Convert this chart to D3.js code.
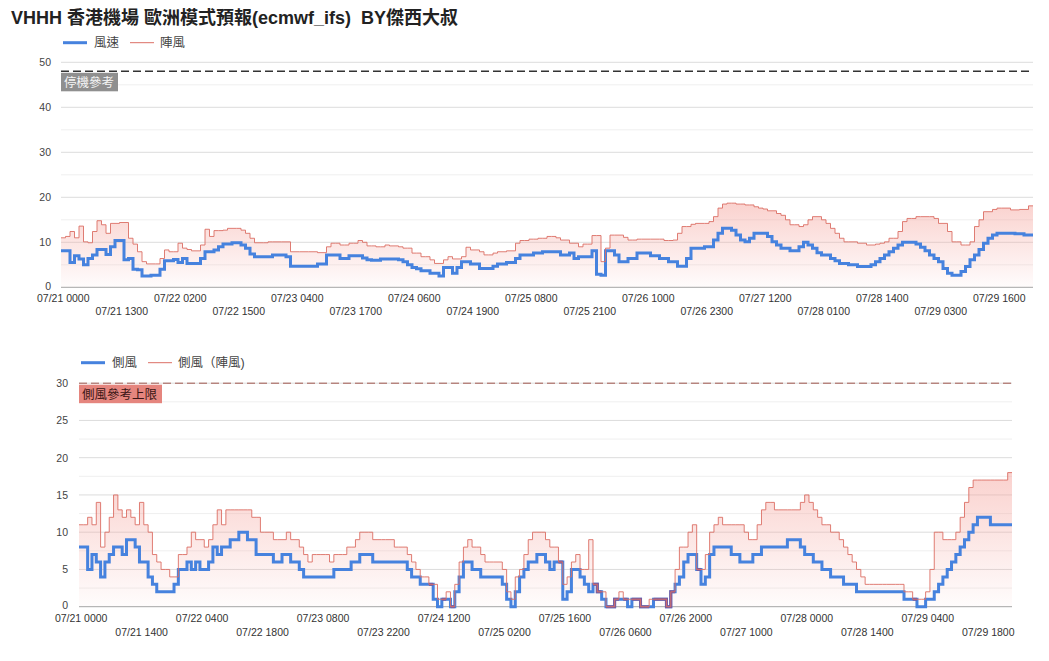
<!DOCTYPE html>
<html>
<head>
<meta charset="utf-8">
<script src="https://cdnjs.cloudflare.com/ajax/libs/d3/7.8.5/d3.min.js"></script>
<style>
body { margin: 0; background: #fff; }
text { font-family: "Liberation Sans", Arial, "Noto Sans CJK TC", sans-serif; }
</style>
</head>
<body>
<div id="main"></div>
<script>
// hourly, 07/21 0000 -> 07/29 2300 (one row per day)
const windSpeed = [
  8.1,8.1,5.5,7.0,6.3,5.0,6.4,7.2,8.4,8.4,7.3,9.0,10.4,10.4,6.1,6.4,4.0,3.9,2.5,2.5,2.7,2.7,4.0,5.9,
  5.9,6.2,5.5,6.4,5.3,5.3,5.3,6.4,7.9,7.9,8.3,9.0,9.6,9.6,9.9,9.9,9.4,8.7,7.4,6.8,6.8,6.8,6.8,7.2,
  7.2,7.2,6.8,4.7,4.7,4.7,4.7,4.7,4.7,5.2,5.2,7.2,7.2,7.2,6.4,6.4,7.0,7.0,7.0,6.5,6.1,6.0,6.0,6.3,
  6.3,6.3,6.3,6.1,5.7,5.0,4.4,4.1,3.7,3.7,3.1,3.1,2.5,4.4,4.4,3.1,4.4,5.7,5.7,5.2,5.2,4.2,4.2,4.2,
  4.7,5.2,5.2,5.5,5.5,6.4,7.2,7.2,7.2,7.6,7.6,7.9,7.9,7.9,7.9,7.2,7.2,7.6,6.4,6.8,6.8,6.8,8.1,2.9,
  2.7,8.1,8.1,7.2,5.7,5.7,6.4,6.4,7.6,7.6,7.6,7.0,7.0,6.4,6.4,5.7,5.7,4.7,4.7,6.4,8.7,8.7,8.7,9.0,
  9.0,10.5,12.0,13.1,13.1,12.7,11.6,10.5,10.1,10.9,12.0,12.0,12.0,11.3,10.1,9.4,8.7,8.7,8.1,8.1,9.0,10.0,9.4,8.7,
  7.7,7.2,7.2,6.4,5.9,5.3,5.3,5.0,5.0,4.6,4.6,4.6,5.0,5.7,6.4,7.2,7.9,8.7,9.4,10.0,10.0,10.0,9.6,8.9,
  8.1,7.2,6.4,5.7,4.2,3.1,2.7,2.7,3.5,4.6,6.1,7.2,8.4,9.8,10.9,11.6,12.0,12.0,12.0,12.0,11.9,11.9,11.6,11.6
];
const windGust = [
  11.0,11.3,12.4,11.0,13.6,10.1,9.9,12.4,14.8,13.9,12.0,14.2,14.2,14.4,14.4,10.9,9.6,7.9,5.7,5.2,5.2,5.2,6.4,8.3,
  7.9,7.9,9.8,8.7,8.4,8.1,8.1,9.4,12.9,11.3,12.6,12.6,12.7,13.1,13.1,13.1,12.7,12.0,10.9,9.9,9.9,9.9,10.1,10.1,
  10.1,10.1,10.1,7.9,7.9,7.9,7.9,7.9,7.9,7.7,7.7,9.0,9.8,9.8,9.4,9.4,9.8,9.8,10.4,10.0,9.2,9.2,9.0,9.0,
  9.4,9.2,9.2,9.0,8.7,8.7,7.6,7.6,6.8,6.8,6.1,5.3,5.3,6.1,6.8,6.3,6.3,6.8,8.9,8.3,8.3,7.9,7.2,7.2,
  7.6,7.9,7.9,8.1,8.1,9.8,10.4,10.4,10.7,10.7,10.9,10.9,11.3,11.3,11.0,10.5,10.5,9.8,9.8,9.0,9.6,9.6,11.5,11.5,
  5.7,8.7,11.6,11.6,11.6,11.1,10.5,10.5,10.7,10.7,10.7,10.7,10.7,10.7,10.4,10.4,10.5,12.0,13.5,13.5,14.0,14.2,14.2,14.2,
  14.6,15.7,17.6,18.5,18.7,18.7,18.5,18.5,18.3,18.3,17.9,17.6,17.4,17.0,17.0,16.4,16.0,15.0,13.9,13.9,13.5,13.9,15.0,15.7,
  15.7,15.0,14.2,13.1,12.0,10.9,10.1,10.1,10.1,9.8,9.8,9.4,9.4,9.6,9.8,10.1,10.9,10.9,12.4,14.6,15.3,15.3,15.7,15.7,
  15.7,15.7,15.3,14.2,14.2,12.4,10.1,10.1,9.4,9.4,10.1,13.5,15.0,16.8,16.8,17.3,17.6,17.6,17.6,17.2,17.2,17.3,17.3,18.1
];
const crossWind = [
  8,8,5,7,6,4,6,7,8,8,7,9,9,8,6,6,4,3,2,2,2,2,3,5,
  5,6,5,6,5,5,6,8,7,8,8,9,9,10,10,9,9,7,7,7,7,6,6,7,
  7,6,6,5,4,4,4,4,4,4,4,5,5,5,5,6,6,7,7,7,6,6,6,6,
  6,6,6,6,5,4,4,3,3,3,1,0,1,1,0,2,4,6,6,5,5,4,4,4,
  4,4,3,1,0,2,4,5,6,6,7,7,6,5,6,6,1,2,5,5,4,3,2,3,
  2,1,0,0,1,1,1,0,1,1,0,0,0,1,1,1,0,2,3,4,6,7,7,5,
  3,4,7,8,8,8,8,7,7,6,6,6,7,7,8,8,8,8,8,8,9,9,9,8,
  7,7,6,6,5,5,4,4,4,3,3,3,2,2,2,2,2,2,2,2,2,2,2,1,
  1,1,0,0,1,1,2,3,4,5,6,7,8,9,10,11,12,12,12,11,11,11,11,11
];
const crossGust = [
  11,11,12,11,14,8,10,12,15,13,12,13,12,11,14,11,10,7,6,5,5,4,4,7,
  7,8,10,9,9,8,9,11,13,11,13,13,13,13,13,13,12,12,10,10,10,9,9,9,
  10,9,9,8,7,6,7,7,7,7,6,7,7,7,8,8,9,10,10,10,9,9,9,9,
  9,8,8,8,7,6,5,4,4,3,3,1,1,2,0,3,6,8,9,8,8,7,6,6,
  6,6,5,2,1,4,5,7,9,10,10,10,9,8,8,6,3,4,6,7,5,5,9,3,
  2,2,0,0,1,2,1,1,1,1,0,0,1,1,1,1,0,2,5,8,8,10,11,5,
  5,7,10,11,12,11,11,11,11,11,10,9,9,11,13,14,14,13,13,13,13,13,13,14,
  15,14,13,12,11,11,10,10,9,8,7,6,5,4,3,3,3,3,3,3,3,3,3,2,
  2,1,1,1,2,5,10,10,9,9,9,10,12,14,16,17,17,17,17,17,17,17,17,18
];

const titleText = "VHHH 香港機場 歐洲模式預報(ecmwf_ifs)  BY傑西大叔";
const topLegend = ["風速", "陣風"];
const bottomLegend = ["側風", "側風（陣風)"];
const fmt = d3.utcFormat("%m/%d %H%M");
const t0 = new Date(Date.UTC(2024, 6, 21, 0));
const hours = d3.range(windSpeed.length).map(i => fmt(d3.utcHour.offset(t0, i)));

const BLUE = "#4682de", RED = "#dc6f65", MIX = "#7a5c9e";

const svg = d3.select("#main").append("svg").attr("width", 1049).attr("height", 661);

svg.append("text").attr("x", 11).attr("y", 24).text(titleText)
  .attr("xml:space", "preserve").style("white-space", "pre")
  .attr("font-size", 18).attr("font-weight", "bold").attr("fill", "#222");

function panel(o) {
  const x = d3.scaleBand().domain(hours).range([o.x0, o.x1]);
  const y = d3.scaleLinear().domain([0, o.yMax]).range([o.yb, o.yt]);
  const bw = x.bandwidth();
  const g = svg.append("g");

  // grid
  g.selectAll(".minor").data(d3.range(o.major / 2, o.yMax, o.major)).enter().append("line")
    .attr("x1", o.x0).attr("x2", o.x1).attr("y1", d => y(d)).attr("y2", d => y(d))
    .attr("stroke", "#efefef");
  g.selectAll(".major").data(d3.range(o.major, o.yMax + 0.01, o.major)).enter().append("line")
    .attr("x1", o.x0).attr("x2", o.x1).attr("y1", d => y(d)).attr("y2", d => y(d))
    .attr("stroke", "#dcdcdc");
  g.selectAll(".ylab").data(d3.range(0, o.yMax + 0.01, o.major)).enter().append("text")
    .attr("x", o.yLabX).attr("y", d => y(d) + (d === 0 ? 2.5 : 3.8)).attr("text-anchor", "end")
    .attr("font-size", 10.5).attr("fill", "#444").text(d => d);

  const pts = (s, a = 0, b = s.length - 1) => {
    const p = d3.range(a, b + 1).map(i => [x(hours[i]), y(s[i])]);
    p.push([x(hours[b]) + bw, y(s[b])]);
    return p;
  };

  // gust area with gradient
  const gid = "grad" + o.id;
  const grad = svg.append("defs").append("linearGradient").attr("id", gid)
    .attr("gradientUnits", "userSpaceOnUse").attr("x1", 0).attr("x2", 0)
    .attr("y1", y(d3.max(o.gust))).attr("y2", y(0));
  grad.append("stop").attr("offset", 0).attr("stop-color", "#f5a49d").attr("stop-opacity", 0.5);
  grad.append("stop").attr("offset", 1).attr("stop-color", "#f5a49d").attr("stop-opacity", 0.03);

  g.append("path").datum(pts(o.gust))
    .attr("d", d3.area().x(d => d[0]).y0(y(0)).y1(d => d[1]).curve(d3.curveStepAfter))
    .attr("fill", `url(#${gid})`);

  g.append("line").attr("x1", o.x0).attr("x2", o.x1).attr("y1", y(0)).attr("y2", y(0))
    .attr("stroke", "#a6a6a6");

  const line = d3.line().x(d => d[0]).y(d => d[1]).curve(d3.curveStepAfter);
  g.append("path").datum(pts(o.speed)).attr("d", line)
    .attr("fill", "none").attr("stroke", BLUE).attr("stroke-width", 3);

  // where both series coincide the lines blend to purple
  const runs = [];
  let start = -1;
  o.speed.forEach((v, i) => {
    const same = Math.abs(v - o.gust[i]) < 0.01;
    if (same && start < 0) start = i;
    if (!same && start >= 0) { runs.push([start, i - 1]); start = -1; }
  });
  if (start >= 0) runs.push([start, o.speed.length - 1]);
  g.selectAll(".mix").data(runs).enter().append("path")
    .attr("d", r => line(pts(o.speed, r[0], r[1])))
    .attr("fill", "none").attr("stroke", MIX).attr("stroke-width", 3);

  g.append("path").datum(pts(o.gust)).attr("d", line)
    .attr("fill", "none").attr("stroke", RED).attr("stroke-width", 1).attr("stroke-opacity", 0.9);

  // reference line + label
  g.append("line").attr("x1", o.x0).attr("x2", o.x1).attr("y1", y(o.ref)).attr("y2", y(o.ref))
    .attr("stroke", o.refColor).attr("stroke-width", o.refWidth).attr("stroke-dasharray", "8,4");
  g.append("rect").attr("x", o.x0).attr("y", y(o.ref) + 1.5).attr("width", o.refBoxW).attr("height", 18.5)
    .attr("fill", o.refBox);
  g.append("text").attr("x", o.x0 + 3).attr("y", y(o.ref) + 15.5).text(o.refText)
    .attr("font-size", 12.5).attr("fill", o.refTextColor);

  // x labels, alternating rows
  const ticks = hours.filter((h, i) => i % o.every === 0);
  g.selectAll(".xlab").data(ticks).enter().append("text")
    .attr("x", d => x(d) + bw / 2).attr("y", (d, k) => k % 2 === 0 ? o.row1 : o.row2)
    .attr("text-anchor", "middle").attr("font-size", 10.5).attr("fill", "#333").text(d => d);

  // legend
  const lg = g.append("g").attr("transform", `translate(${o.x0 + 2},${o.legY})`);
  lg.append("line").attr("x1", 0).attr("x2", 24).attr("stroke", BLUE).attr("stroke-width", 3);
  lg.append("text").attr("x", 31).attr("y", 4.5).text(o.legend[0]).attr("font-size", 12.5).attr("fill", "#444");
  lg.append("line").attr("x1", 67).attr("x2", 91).attr("stroke", RED).attr("stroke-width", 1);
  lg.append("text").attr("x", 97).attr("y", 4.5).text(o.legend[1]).attr("font-size", 12.5).attr("fill", "#444");
}

panel({
  id: 1, x0: 61, x1: 1033, yb: 287.3, yt: 62.3, yMax: 50, major: 10, yLabX: 51,
  speed: windSpeed, gust: windGust, every: 13, row1: 302, row2: 315,
  ref: 48, refColor: "#333", refWidth: 1.5, refBox: "#8f8f8f", refBoxW: 57,
  refText: "停機參考", refTextColor: "#f4f4f4", legend: topLegend, legY: 42.7
});

panel({
  id: 2, x0: 79, x1: 1012, yb: 606.7, yt: 383.2, yMax: 30, major: 5, yLabX: 68,
  speed: crossWind, gust: crossGust, every: 14, row1: 621.5, row2: 635.5,
  ref: 30, refColor: "#a0574f", refWidth: 1, refBox: "#e5857e", refBoxW: 83,
  refText: "側風參考上限", refTextColor: "#3a1515", legend: bottomLegend, legY: 362.7
});
</script>
</body>
</html>
